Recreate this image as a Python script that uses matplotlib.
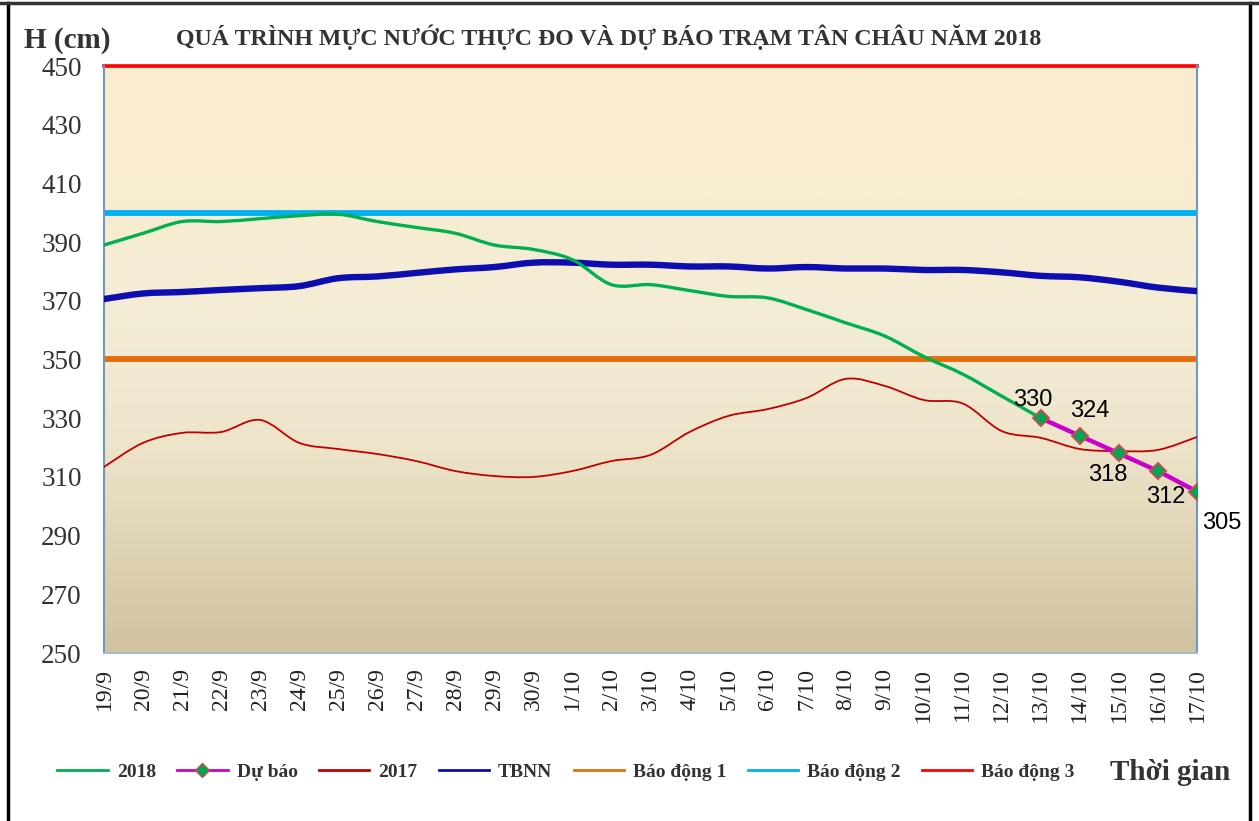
import numpy as np
import matplotlib
matplotlib.use("Agg")
import matplotlib.pyplot as plt
from matplotlib.path import Path
from matplotlib.patches import PathPatch
from matplotlib.lines import Line2D
from matplotlib.colors import LinearSegmentedColormap

# ---------------- data ----------------
dates = ["19/9", "20/9", "21/9", "22/9", "23/9", "24/9", "25/9", "26/9", "27/9", "28/9",
         "29/9", "30/9", "1/10", "2/10", "3/10", "4/10", "5/10", "6/10", "7/10", "8/10",
         "9/10", "10/10", "11/10", "12/10", "13/10", "14/10", "15/10", "16/10", "17/10"]

h2018 = [389, 393, 397, 397, 398, 399, 399.5, 397, 395, 393, 389, 387.5, 384, 375.5,
         375.5, 373.5, 371.5, 371, 367, 362.5, 358, 351, 345, 337.5, 330]

forecast = [330, 324, 318, 312, 305]
forecast_start = 24

h2017 = [313.4, 321.6, 325, 325.3, 329.4, 321.6, 319.5, 317.8, 315.4, 312, 310.3, 310,
         312, 315.4, 317.5, 325.3, 330.8, 333.1, 336.9, 343.4, 341, 336.2, 335, 325.6,
         323.3, 319.5, 318.8, 319.2, 323.6]

tbnn = [370.6, 372.5, 373, 373.7, 374.3, 375, 377.7, 378.3, 379.5, 380.7, 381.5, 383,
        383, 382.3, 382.3, 381.7, 381.7, 381, 381.5, 381, 381, 380.5, 380.5, 379.7,
        378.5, 378, 376.5, 374.5, 373.3]

alarm1 = 350
alarm2 = 400
alarm3 = 450

yticks = [250, 270, 290, 310, 330, 350, 370, 390, 410, 430, 450]

# ---------------- figure ----------------
W, H = 1259, 821
fig = plt.figure(figsize=(W / 100, H / 100), dpi=100)
fig.patch.set_facecolor("white")

L, R, T, B = 104, 1197, 66, 653
ax = fig.add_axes([L / W, 1 - B / H, (R - L) / W, (B - T) / H])

n = len(dates)
ax.set_xlim(0, n - 1)
ax.set_ylim(250, 450)

# gradient background
cmap = LinearSegmentedColormap.from_list(
    "bg", [(0.0, "#D0C29F"), (0.35, "#EDE4CA"), (0.55, "#F3ECD5"), (1.0, "#FDECCF")])
grad = np.linspace(0, 1, 256).reshape(-1, 1)
ax.imshow(grad, aspect="auto", cmap=cmap, origin="lower",
          extent=[0, n - 1, 250, 450], zorder=0)

serif = "Liberation Serif"


def smooth_path(xs, ys):
    xs = np.asarray(xs, float)
    ys = np.asarray(ys, float)
    pts = np.column_stack([xs, ys])
    verts = [pts[0]]
    codes = [Path.MOVETO]
    m = len(pts)
    for i in range(m - 1):
        p0 = pts[i - 1] if i > 0 else pts[i]
        p1 = pts[i]
        p2 = pts[i + 1]
        p3 = pts[i + 2] if i + 2 < m else pts[i + 1]
        c1 = p1 + (p2 - p0) / 6.0
        c2 = p2 - (p3 - p1) / 6.0
        verts += [c1, c2, p2]
        codes += [Path.CURVE4] * 3
    return Path(verts, codes)


def draw_smooth(xs, ys, color, lw, z):
    patch = PathPatch(smooth_path(xs, ys), facecolor="none", edgecolor=color,
                      lw=lw, zorder=z, capstyle="round", joinstyle="round")
    ax.add_patch(patch)


c2018 = "#00B050"
cfc = "#CC00CC"
c2017 = "#C00000"
ctb = "#0E0EB0"
ca1 = "#E46C0A"
ca2 = "#00B0F0"
ca3 = "#FF0000"

# alarm lines
ax.axhline(alarm1, color=ca1, lw=4.2, zorder=2)
ax.axhline(alarm2, color=ca2, lw=4.2, zorder=2)
ax.axhline(alarm3, color=ca3, lw=2.6, zorder=2, clip_on=False)

x_all = np.arange(n)
draw_smooth(x_all, h2017, c2017, 1.3, 3)
draw_smooth(x_all, tbnn, ctb, 4.6, 4)
draw_smooth(x_all[:len(h2018)], h2018, c2018, 2.4, 5)

xf = np.arange(forecast_start, forecast_start + len(forecast))
ax.plot(xf, forecast, color=cfc, lw=3.2, zorder=6, marker="D", markersize=8,
        markerfacecolor="#00A651", markeredgecolor="#C0504D", markeredgewidth=1.4)

# data labels
offsets = [(-8, 18), (10, 25), (-11, -22), (8, -26), (25, -31)]
for xv, yv, (dx, dy) in zip(xf, forecast, offsets):
    ax.annotate(str(yv), (xv, yv), xytext=(dx * 0.72, dy * 0.72), textcoords="offset points",
                ha="center", va="center", fontsize=17, family="Liberation Sans",
                color="black", zorder=7, annotation_clip=False)

# axes styling
ax.spines["top"].set_visible(False)
ax.spines["left"].set_color("#6A98CF")
ax.spines["right"].set_color("#6A98CF")
ax.spines["bottom"].set_color("#A9B8CC")
for s in ["left", "right", "bottom"]:
    ax.spines[s].set_linewidth(1.5)

ax.set_yticks(yticks)
ax.set_yticklabels([str(v) for v in yticks], family=serif, fontsize=19.5, color="#333333")
ax.set_xticks(x_all)
ax.set_xticklabels(dates, rotation=90, family=serif, fontsize=17, color="#222222",
                   va="top", ha="center")
ax.tick_params(axis="y", length=0, pad=16)
ax.tick_params(axis="x", length=0, pad=11)

# titles
fig.text(609 / W, 1 - 37 / H, "QUÁ TRÌNH MỰC NƯỚC THỰC ĐO VÀ DỰ BÁO TRẠM TÂN CHÂU NĂM 2018",
         family=serif, fontweight="bold", fontsize=17.2, color="#333333",
         ha="center", va="center")
fig.text(24 / W, 1 - 40 / H, "H (cm)", family=serif, fontweight="bold", fontsize=21,
         color="#333333", ha="left", va="center")
fig.text(1110 / W, 1 - 772 / H, "Thời gian", family=serif, fontweight="bold", fontsize=21,
         color="#333333", ha="left", va="center")

# legend
handles = [
    Line2D([], [], color=c2018, lw=2),
    Line2D([], [], color=cfc, lw=2, marker="D", markersize=7,
           markerfacecolor="#00A651", markeredgecolor="#C0504D"),
    Line2D([], [], color=c2017, lw=2),
    Line2D([], [], color=ctb, lw=2),
    Line2D([], [], color=ca1, lw=2),
    Line2D([], [], color=ca2, lw=2),
    Line2D([], [], color=ca3, lw=2),
]
labels = ["2018", "Dự báo", "2017", "TBNN", "Báo động 1", "Báo động 2", "Báo động 3"]
leg = fig.legend(handles, labels, loc="center", bbox_to_anchor=(566 / W, 1 - 772 / H),
                 ncol=7, frameon=False, handlelength=2.6, handletextpad=0.45,
                 columnspacing=1.1, borderpad=0, borderaxespad=0,
                 prop={"family": serif, "weight": "bold", "size": 14})
for t in leg.get_texts():
    t.set_color("#333333")

# outer frame
fig.add_artist(Line2D([8 / W, 8 / W], [0, 1 - 3 / H], color="black", lw=2.5,
                      transform=fig.transFigure))
fig.add_artist(Line2D([1250 / W, 1250 / W], [0, 1 - 3 / H], color="black", lw=2.5,
                      transform=fig.transFigure))
fig.add_artist(Line2D([0, 1], [1 - 3 / H, 1 - 3 / H], color="#333333", lw=2.5,
                      transform=fig.transFigure))

fig.savefig("out.png", dpi=100)
